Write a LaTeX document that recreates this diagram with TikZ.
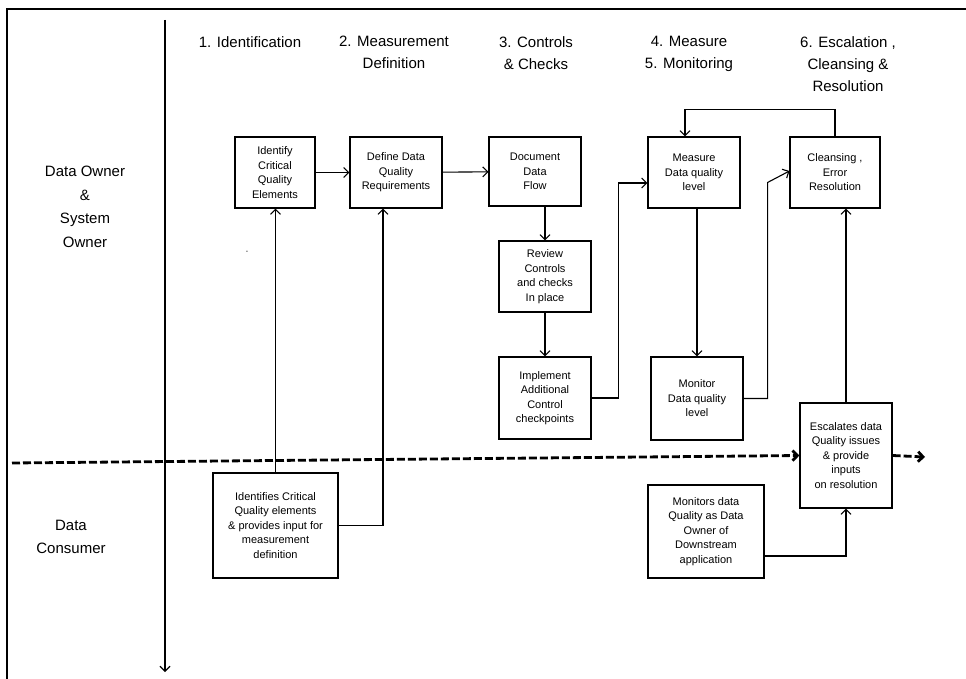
\documentclass[tikz,border=0pt]{standalone}
\usepackage{fontspec}
\setmainfont{Liberation Sans}
\usepackage{tikz}
\usetikzlibrary{arrows.meta, positioning, calc}
\tikzstyle{task} = [rectangle, draw=black, line width=1.1pt, align=center, inner sep=2pt, font=\fontsize{11}{14.5}\selectfont]
\tikzstyle{phase} = [align=center, anchor=north, inner sep=0pt, font=\fontsize{15}{22}\selectfont]
\tikzstyle{lane} = [align=center, font=\fontsize{15}{23.5}\selectfont]
\tikzstyle{arrow} = [line width=1.1pt, -{Straight Barb[length=5pt,width=10pt]}]
\tikzstyle{handoff} = [line width=2.8pt, dash pattern=on 8pt off 3pt, -{Straight Barb[length=5pt,width=10pt]}]

\begin{document}
\begin{tikzpicture}[x=1pt, y=-1pt]
\useasboundingbox (0,0) rectangle (966,679);

% frame and time axis
\draw [line width=2.4pt] (7,679) -- (7,9) -- (966,9);
\coordinate (axistop) at (165,20);
\coordinate (axisbottom) at (165,672);
\draw [arrow] (axistop) -- (axisbottom);

% lanes
\node (ownerlane) [lane] at (85,207) {Data Owner\\\&\\System\\Owner};
\node (consumerlane) [lane] at (71,537) {Data\\Consumer};

% phases
\node (phaseone) [phase] at (250,36) {1. Identification};
\node (phasetwo) [phase] at (394,36) {2. Measurement\\Definition};
\node (phasethree) [phase] at (536,36) {3. Controls\\\& Checks};
\node (phasefour) [phase] at (689,36) {4. Measure\\5. Monitoring};
\node (phasesix) [phase] at (848,36) {6. Escalation ,\\Cleansing \&\\Resolution};

% owner tasks
\node (identify) [task, minimum width=80pt, minimum height=71pt] at (275,172.5) {Identify\\Critical\\Quality\\Elements};
\node (define) [task, minimum width=92pt, minimum height=71pt] at (396,172.5) {Define Data\\Quality\\Requirements};
\node (document) [task, minimum width=92pt, minimum height=69pt] at (535,171.5) {Document\\Data\\Flow};
\node (review) [task, minimum width=92pt, minimum height=71pt] at (545,276.5) {Review\\Controls\\and checks\\In place};
\node (implement) [task, minimum width=92pt, minimum height=82pt] at (545,398) {Implement\\Additional\\Control\\checkpoints};
\node (measure) [task, minimum width=92pt, minimum height=71pt] at (694,172.5) {Measure\\Data quality\\level};
\node (monitor) [task, minimum width=92pt, minimum height=83pt] at (697,398.5) {Monitor\\Data quality\\level};
\node (cleansing) [task, minimum width=90pt, minimum height=71pt] at (835,172.5) {Cleansing ,\\Error\\Resolution};
\node (mark) [font=\fontsize{7}{7}\selectfont, inner sep=0pt] at (247,252) {-};

% consumer tasks
\node (escalate) [task, minimum width=92pt, minimum height=105pt] at (846,455.5) {Escalates data\\Quality issues\\\& provide\\inputs\\on resolution};
\node (downstream) [task, minimum width=116pt, minimum height=93pt] at (706,531.5) {Monitors data\\Quality as Data\\Owner of\\Downstream\\application};
\node (consumer) [task, minimum width=125pt, minimum height=105pt] at (275.5,525.5) {Identifies Critical\\Quality elements\\\& provides input for\\measurement\\definition};

% flow
\draw [arrow] (identify) -- (define);
\draw [arrow] (define) -- (document);
\draw [arrow] (review.north |- document.south) -- (review);
\draw [arrow] (review) -- (implement);
\draw [arrow] (implement.east) -- ++(27,0) |- ($(measure.west)+(0,10.5)$);
\draw [arrow] (monitor.north |- measure.south) -- (monitor);
\draw [arrow] (monitor.east) -- ++(24,0) -- ++(0,-216) -- ($(cleansing.west)+(0,-1.5)$);
\draw [arrow] (cleansing.north) -- ++(0,-27) -| ($(measure.north)+(-9,0)$);
\draw [arrow] (escalate.north) -- (escalate.north |- cleansing.south);
\draw [arrow] ($(downstream.east)+(0,24.5)$) -| (escalate.south);
\draw [arrow] (consumer.north) -- (consumer.north |- identify.south);
\draw [arrow] (consumer.east) -| ($(define.south)+(-13,0)$);

% hand-off line
\coordinate (dashstart) at (12,463);
\coordinate (dashend) at (925,457);
\draw [handoff] (dashstart) -- (escalate.west);
\draw [handoff] (escalate.east) -- (dashend);

\end{tikzpicture}
\end{document}
